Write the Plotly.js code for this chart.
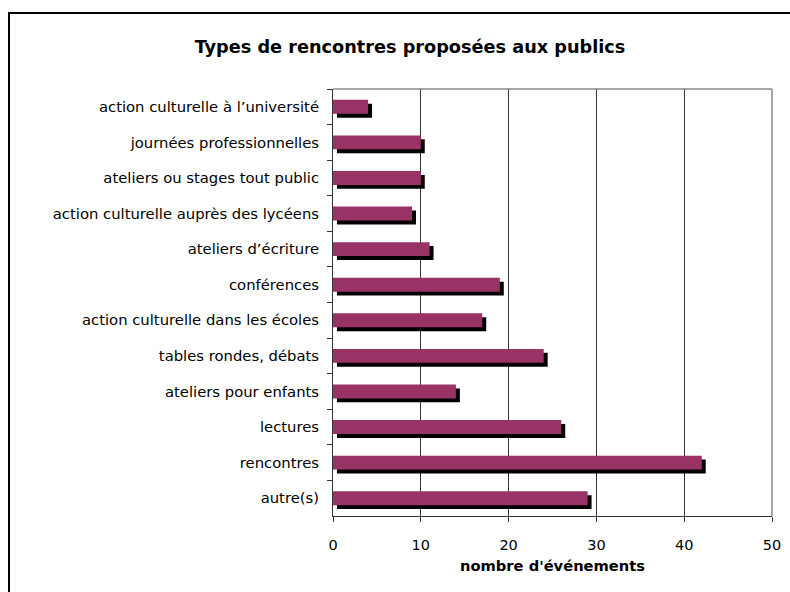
<!DOCTYPE html>
<html>
<head>
<meta charset="utf-8">
<script src="https://cdn.plot.ly/plotly-3.0.1.min.js"></script>
<style>
  html, body { margin: 0; padding: 0; background: #fff; }
  #wrap { position: relative; width: 790px; height: 592px; overflow: hidden; }
  #chart { position: absolute; left: 0; top: 0; width: 790px; height: 592px; }
  #frame { position: absolute; left: 8px; top: 12px; width: 800px; height: 600px;
           border-left: 2px solid #000; border-top: 2px solid #000; pointer-events: none; }
</style>
</head>
<body>
<div id="wrap">
  <div id="chart"></div>
  <div id="frame"></div>
</div>
<script>
const categories = [
  "action culturelle à l’université",
  "journées professionnelles",
  "ateliers ou stages tout public",
  "action culturelle auprès des lycéens",
  "ateliers d’écriture",
  "conférences",
  "action culturelle dans les écoles",
  "tables rondes, débats",
  "ateliers pour enfants",
  "lectures",
  "rencontres",
  "autre(s)"
];
const values = [4, 10, 10, 9, 11, 19, 17, 24, 14, 26, 42, 29];
const xTicks = [0, 10, 20, 30, 40, 50];

const font = "DejaVu Sans, Verdana, sans-serif";

const shadow = {
  type: "bar", orientation: "h",
  y: categories, x: values, base: 0.45,
  width: 0.39, offset: -0.085,
  marker: { color: "#000000", line: { width: 0 } },
  hoverinfo: "skip", showlegend: false
};
const bars = {
  type: "bar", orientation: "h",
  y: categories, x: values,
  width: 0.39, offset: -0.195,
  marker: { color: "#993366", line: { width: 0 } },
  showlegend: false
};

const layout = {
  width: 790, height: 592,
  margin: { l: 333, r: 18, t: 89, b: 76 },
  paper_bgcolor: "#ffffff", plot_bgcolor: "#ffffff",
  barmode: "overlay",
  font: { family: font, size: 14.8, color: "#000" },
  title: {
    text: "<b>Types de rencontres proposées aux publics</b>",
    font: { family: font, size: 17.7, color: "#000" },
    xref: "container", x: 0.519, xanchor: "center",
    yref: "container", y: 1 - 47 / 592, yanchor: "middle"
  },
  xaxis: {
    range: [0, 50], tickvals: xTicks, ticktext: xTicks.map(String),
    showgrid: true, gridcolor: "#333", gridwidth: 1,
    showline: true, linecolor: "#333", linewidth: 1,
    ticks: "outside", ticklen: 5, tickcolor: "#333",
    ticklabelstandoff: 11,
    zeroline: false, fixedrange: true,
    tickfont: { family: font, size: 14.5 },
    title: { text: "<b>nombre d'événements</b>", font: { family: font, size: 14.7 }, standoff: 8 }
  },
  yaxis: {
    type: "category", autorange: "reversed",
    showgrid: false, showline: true, linecolor: "#333", linewidth: 1,
    ticks: "outside", ticklen: 5, tickcolor: "#333", tickson: "boundaries",
    ticklabelstandoff: 10,
    tickfont: { family: font, size: 14.8 }, fixedrange: true
  },
  shapes: [
    { type: "line", xref: "paper", yref: "paper", x0: 0, x1: 1, y0: 1, y1: 1,
      line: { color: "#888", width: 1.5 } },
    { type: "line", xref: "paper", yref: "paper", x0: 1, x1: 1, y0: 0, y1: 1,
      line: { color: "#888", width: 1.5 } }
  ]
};

Plotly.newPlot("chart", [shadow, bars], layout, { displayModeBar: false, staticPlot: true });
</script>
</body>
</html>
